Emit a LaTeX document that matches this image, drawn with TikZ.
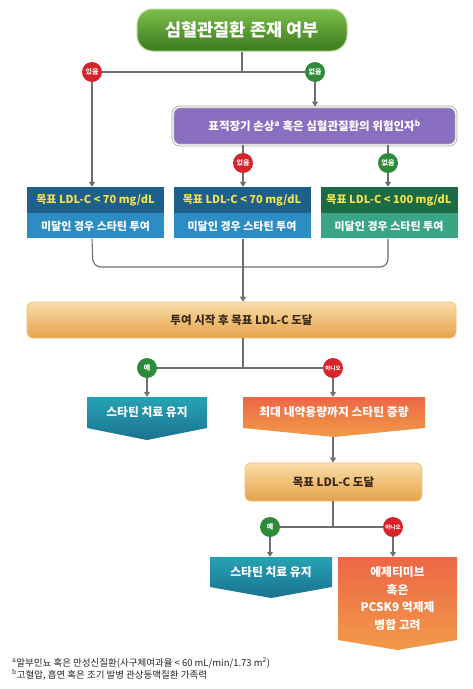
\documentclass[tikz,border=0pt]{standalone}
\usepackage{fontspec}
\setmainfont{Noto Sans CJK KR}
\usetikzlibrary{arrows.meta,calc}
\definecolor{lineg}{HTML}{6E6E6E}
\definecolor{grtop}{HTML}{7DBE4A}
\definecolor{grbot}{HTML}{3C7A1E}
\definecolor{purp}{HTML}{8A6EC2}
\definecolor{cred}{HTML}{D8232A}
\definecolor{cgreen}{HTML}{2E8B3A}
\definecolor{bluetop}{HTML}{1F5F8C}
\definecolor{bluebot}{HTML}{2C8DC4}
\definecolor{greentop}{HTML}{1C6B46}
\definecolor{greenbot}{HTML}{3AA585}
\definecolor{ylw}{HTML}{F2E34A}
\definecolor{ortop}{HTML}{FADDA8}
\definecolor{orbot}{HTML}{E5A24A}
\definecolor{orline}{HTML}{F2C27E}
\definecolor{ortext}{HTML}{3B2A18}
\definecolor{tealtop}{HTML}{27A2B4}
\definecolor{tealbot}{HTML}{1B7290}
\definecolor{redtop}{HTML}{EC6746}
\definecolor{redbot}{HTML}{F29A48}
\begin{document}
\begin{tikzpicture}[x=1pt,y=-1pt,
  conn/.style={draw=lineg,line width=1.1pt},
  arr/.style={conn,-{Triangle[length=5pt,width=6pt]}},
  badge/.style={circle,minimum size=20pt,inner sep=0pt,text=white,font=\fontsize{7}{7}\selectfont\bfseries},
  smallbadge/.style={badge,font=\fontsize{5.6}{6}\selectfont\bfseries},
  halfbox/.style={rectangle,minimum width=137pt,inner sep=0pt},
  bartext/.style={text=ortext,font=\fontsize{11.5}{13}\selectfont\bfseries},
  chevtext/.style={text=white,font=\fontsize{11.8}{13}\selectfont\bfseries,inner sep=0pt},
  foot/.style={anchor=west,inner sep=0pt,font=\fontsize{9.5}{11}\selectfont,text=black!85}
]
\useasboundingbox (0,0) rectangle (473,689);
\fill[white] (0,0) rectangle (473,689);

% top box
\node[rectangle,rounded corners=16pt,minimum width=210pt,minimum height=42pt,
  top color=grtop,bottom color=grbot,draw=grtop!60!white,line width=1pt,
  text=white,font=\fontsize{17.5}{20}\selectfont\bfseries] (top) at (242,30) {심혈관질환 존재 여부};

% badges level 1
\node[badge,fill=cred] (c1) at (92,72) {있음};
\node[badge,fill=cgreen] (c2) at (315,72) {없음};

% purple box
\node[rectangle,rounded corners=7pt,minimum width=283pt,minimum height=38pt,
  fill=purp,draw=gray!70,double=white,double distance=1.2pt,line width=0.8pt,
  text=white,font=\fontsize{11.5}{13}\selectfont\bfseries] (pur) at (314.5,126)
  {표적장기 손상\textsuperscript{a} 혹은 심혈관질환의 위험인자\textsuperscript{b}};

\node[badge,fill=cred] (c3) at (243,163) {있음};
\node[badge,fill=cgreen] (c4) at (388,163) {없음};

% three target boxes
\node[halfbox,minimum height=26pt,fill=bluetop,text=ylw,font=\fontsize{11}{12}\selectfont\bfseries] (b1t) at (95.5,200) {목표 LDL-C < 70 mg/dL};
\node[halfbox,minimum height=25pt,fill=bluebot,text=white,font=\fontsize{11}{12}\selectfont\bfseries,anchor=north] (b1b) at (b1t.south) {미달인 경우 스타틴 투여};
\node[halfbox,minimum height=26pt,fill=bluetop,text=ylw,font=\fontsize{11}{12}\selectfont\bfseries] (b2t) at (242,200) {목표 LDL-C < 70 mg/dL};
\node[halfbox,minimum height=25pt,fill=bluebot,text=white,font=\fontsize{11}{12}\selectfont\bfseries,anchor=north] (b2b) at (b2t.south) {미달인 경우 스타틴 투여};
\node[halfbox,minimum height=26pt,fill=greentop,text=ylw,font=\fontsize{11}{12}\selectfont\bfseries] (b3t) at (389,200) {목표 LDL-C < 100 mg/dL};
\node[halfbox,minimum height=25pt,fill=greenbot,text=white,font=\fontsize{11}{12}\selectfont\bfseries,anchor=north] (b3b) at (b3t.south) {미달인 경우 스타틴 투여};

% bar 1
\node[rectangle,rounded corners=6pt,minimum width=429pt,minimum height=36pt,
  top color=ortop,bottom color=orbot,draw=orline,line width=0.8pt,bartext] (bar1) at (241.5,320) {투여 시작 후 목표 LDL-C 도달};

\node[badge,fill=cgreen] (c5) at (147,368) {예};
\node[smallbadge,fill=cred] (c6) at (333,368) {아니오};

% connectors level 1
\draw[conn] (top.south) -- (top.south |- c1.center);
\draw[conn] (c1.east) -- (c2.west);
\draw[arr] (c1.south) -- (b1t.north -| c1.south);
\draw[arr] (c2.south) -- (pur.north -| c2.south);
\draw[conn] (pur.south -| c3.north) -- (c3.north);
\draw[conn] (pur.south -| c4.north) -- (c4.north);
\draw[arr] (c3.south) -- (b2t.north -| c3.south);
\draw[arr] (c4.south) -- (b3t.north -| c4.south);
\draw[conn,rounded corners=8pt] (b1b.south -| c1.center) -- (93,267) -- (388,267) -- (b3b.south -| c4.center);
\draw[arr] (b2b.south -| c3.center) -- (bar1.north -| c3.center);
\draw[conn] (bar1.south -| c3.center) -- (243,368);
\draw[conn] (c5.east) -- (c6.west);

% chevron boxes row 1
\shade[top color=tealtop,bottom color=tealbot] (87,397) -- (207,397) -- (207,428) -- (147,440) -- (87,428) -- cycle;
\node[chevtext,minimum width=120pt,minimum height=31pt] (s1) at (147,412.5) {스타틴 치료 유지};
\shade[top color=redtop,bottom color=redbot] (243,397) -- (425,397) -- (425,428) -- (334,437) -- (243,428) -- cycle;
\node[chevtext,minimum width=182pt,minimum height=31pt] (s2) at (334,412.5) {최대 내약용량까지 스타틴 증량};
\coordinate (s2tip) at (333,437);

\draw[arr] (c5.south) -- (s1.north -| c5.south);
\draw[arr] (c6.south) -- (s2.north -| c6.south);

% bar 2
\node[rectangle,rounded corners=6pt,minimum width=177pt,minimum height=38pt,
  top color=ortop,bottom color=orbot,draw=orline,line width=0.8pt,bartext] (bar2) at (333.5,482) {목표 LDL-C 도달};
\draw[arr] (s2tip) -- (bar2.north -| s2tip);

\node[badge,fill=cgreen] (c7) at (270,527) {예};
\node[smallbadge,fill=cred] (c8) at (393,527) {아니오};
\draw[conn] (bar2.south -| s2tip) -- (333,527);
\draw[conn] (c7.east) -- (c8.west);

% chevron boxes row 2
\shade[top color=tealtop,bottom color=tealbot] (210,557) -- (332,557) -- (332,587) -- (271,598) -- (210,587) -- cycle;
\node[chevtext,minimum width=122pt,minimum height=30pt] (s3) at (271,572) {스타틴 치료 유지};
\shade[top color=redtop,bottom color=redbot] (338,557) -- (457,557) -- (457,640) -- (397.5,650) -- (338,640) -- cycle;
\node[chevtext,minimum width=119pt,minimum height=83pt,align=center,font=\fontsize{11.8}{17.5}\selectfont\bfseries] (s4) at (397.5,598.5) {에제티미브\\혹은\\PCSK9 억제제\\병합 고려};

\draw[arr] (c7.south) -- (s3.north -| c7.south);
\draw[arr] (c8.south) -- (s4.north -| c8.south);

% footnotes
\node[foot] (f1) at (12,663)
  {\textsuperscript{a}알부민뇨 혹은 만성신질환(사구체여과율 < 60 mL/min/1.73 m\textsuperscript{2})};
\node[foot] (f2) at (12,675)
  {\textsuperscript{b}고혈압, 흡연 혹은 조기 발병 관상동맥질환 가족력};
\end{tikzpicture}
\end{document}
